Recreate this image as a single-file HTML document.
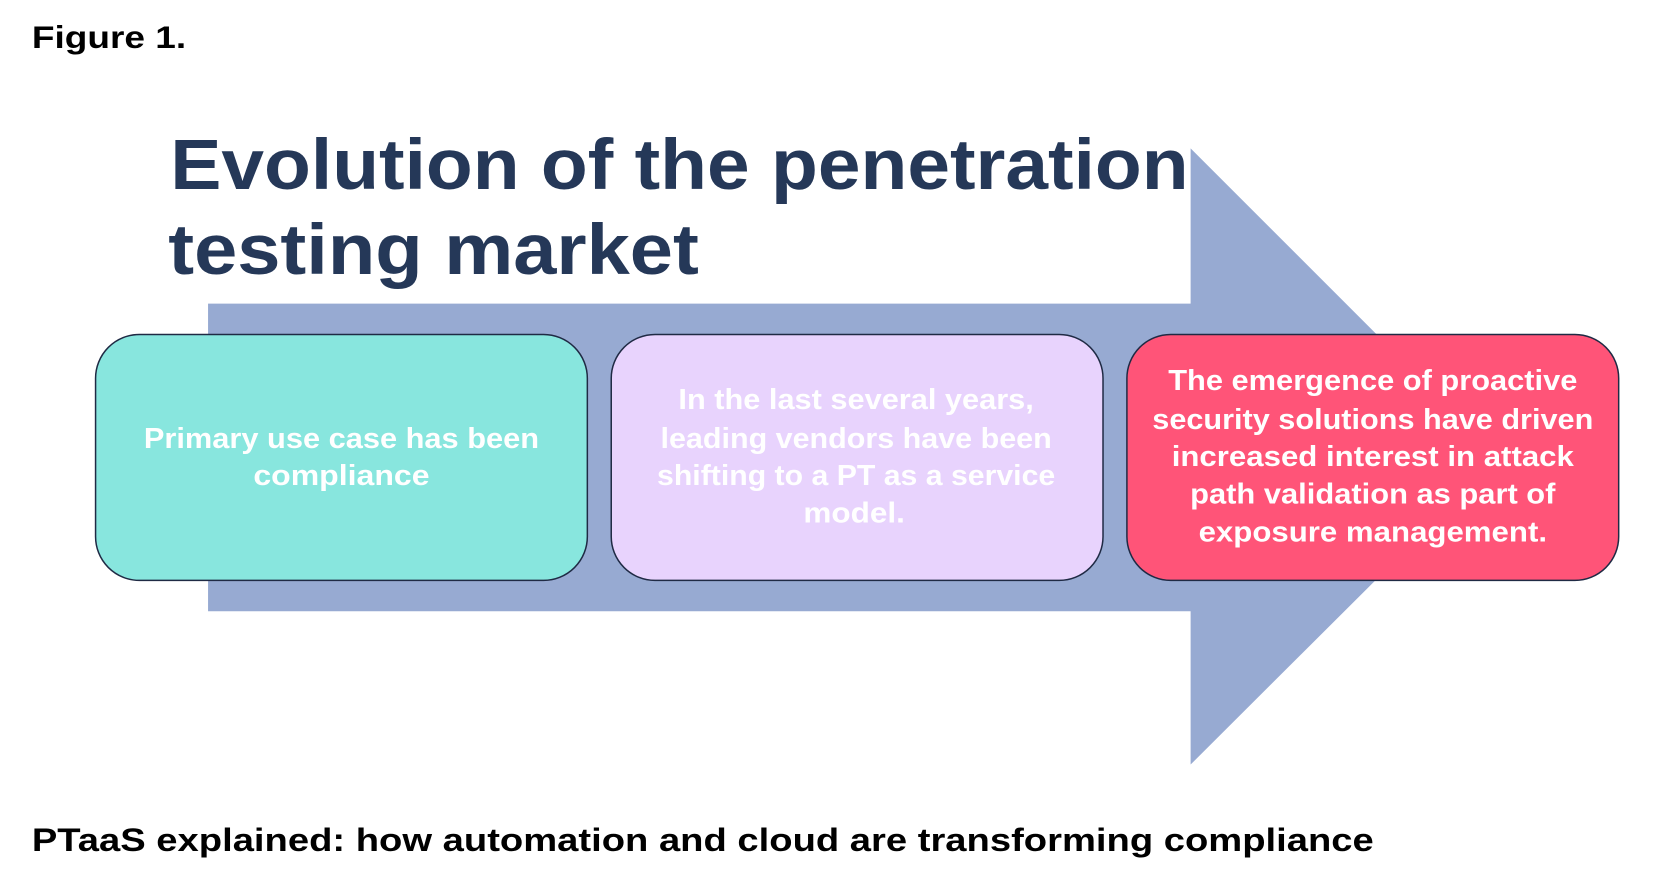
<!DOCTYPE html>
<html><head><meta charset="utf-8"><style>
html,body{margin:0;padding:0;background:#fff;width:1663px;height:894px;overflow:hidden}
svg{display:block}
text{font-family:"Liberation Sans",Arial,sans-serif;font-weight:bold}
</style></head><body>
<svg width="1663" height="894" viewBox="0 0 1663 894" xmlns="http://www.w3.org/2000/svg">
<rect width="1663" height="894" fill="#fff"/>
<g transform="scale(0.9955)">
<text x="32" y="48" font-size="32" fill="#000" textLength="155" lengthAdjust="spacingAndGlyphs">Figure 1.</text>
<polygon points="209,305 1196,305 1196,149 1506,459 1196,768 1196,614 209,614" fill="#97AAD2"/>
<text x="171" y="190" font-size="72" fill="#253858" textLength="1023" lengthAdjust="spacingAndGlyphs">Evolution of the penetration</text>
<text x="169" y="275" font-size="72" fill="#253858" textLength="533" lengthAdjust="spacingAndGlyphs">testing market</text>
<rect x="96" y="336" width="494" height="247" rx="44" fill="#88E6DE" stroke="#1f2a44" stroke-width="1.5"/>
<rect x="614" y="336" width="494" height="247" rx="44" fill="#E8D3FD" stroke="#1f2a44" stroke-width="1.5"/>
<rect x="1132" y="336" width="494" height="247" rx="44" fill="#FF5478" stroke="#1f2a44" stroke-width="1.5"/>
<g fill="#fff" font-size="29" text-anchor="middle">
<text x="343" y="450" textLength="397" lengthAdjust="spacingAndGlyphs">Primary use case has been</text>
<text x="343" y="487" textLength="177" lengthAdjust="spacingAndGlyphs">compliance</text>
<text x="860" y="411" textLength="357" lengthAdjust="spacingAndGlyphs">In the last several years,</text>
<text x="860" y="450" textLength="393" lengthAdjust="spacingAndGlyphs">leading vendors have been</text>
<text x="860" y="487" textLength="400" lengthAdjust="spacingAndGlyphs">shifting to a PT as a service</text>
<text x="858" y="525" textLength="102" lengthAdjust="spacingAndGlyphs">model.</text>
<text x="1379" y="392" textLength="411" lengthAdjust="spacingAndGlyphs">The emergence of proactive</text>
<text x="1379" y="431" textLength="443" lengthAdjust="spacingAndGlyphs">security solutions have driven</text>
<text x="1379" y="468" textLength="404" lengthAdjust="spacingAndGlyphs">increased interest in attack</text>
<text x="1379" y="506" textLength="367" lengthAdjust="spacingAndGlyphs">path validation as part of</text>
<text x="1379" y="544" textLength="350" lengthAdjust="spacingAndGlyphs">exposure management.</text>
</g>
<text x="32" y="855" font-size="33" fill="#000" textLength="1348" lengthAdjust="spacingAndGlyphs">PTaaS explained: how automation and cloud are transforming compliance</text>
</g>
</svg>
</body></html>
